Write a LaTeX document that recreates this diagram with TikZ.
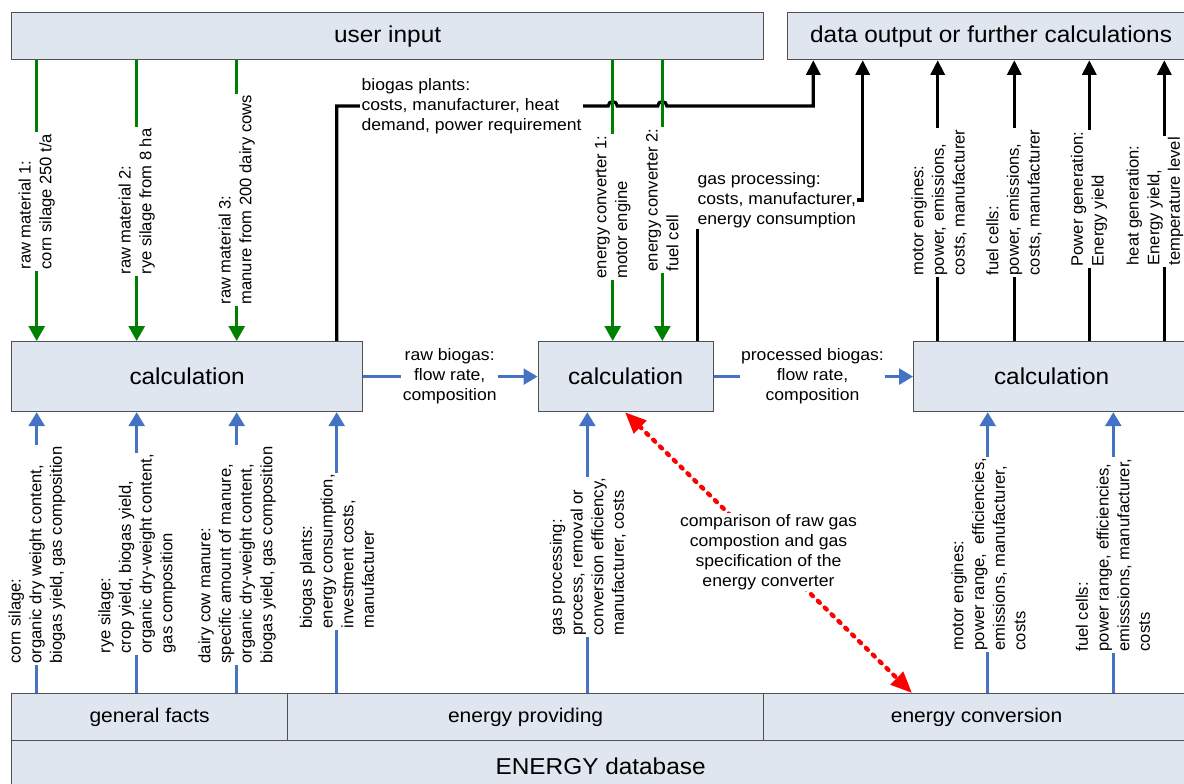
\documentclass[tikz,border=0pt]{standalone}
\usepackage{fontspec}
\setmainfont{Liberation Sans}
\newfontfamily\hsf{Liberation Sans}[FakeStretch=1.06]
\usetikzlibrary{arrows.meta}
\definecolor{boxfill}{RGB}{223,230,240}
\definecolor{boxline}{RGB}{80,80,80}
\definecolor{myblue}{RGB}{68,114,196}
\definecolor{mygreen}{RGB}{0,128,0}
\definecolor{myred}{RGB}{255,0,0}
\begin{document}
\begin{tikzpicture}[x=0.75pt,y=-0.75pt,
  box/.style={draw=boxline, line width=0.9pt, fill=boxfill, anchor=north west, inner sep=0pt},
  bigtxt/.style={font=\hsf\fontsize{17.25}{20}\selectfont},
  midtxt/.style={font=\hsf\fontsize{14.85}{18}\selectfont},
  vlbl/.style={font=\fontsize{12.45}{15.5}\selectfont, rotate=90, anchor=west, align=left, fill=white, inner sep=1pt},
  hlbl/.style={font=\hsf\fontsize{12.45}{15}\selectfont, fill=white, inner sep=1pt},
  garr/.style={draw=mygreen, line width=2.25pt, -{Triangle[length=11.25pt,width=12pt]}},
  barr/.style={draw=myblue, line width=2.1pt, -{Triangle[length=10.5pt,width=12pt]}},
  karr/.style={draw=black, line width=2.4pt, -{Triangle[length=11pt,width=10.5pt]}},
  rarr/.style={draw=myred, line width=3.3pt, dash pattern=on 2pt off 5.2pt, line cap=round, {Triangle[length=16pt,width=13pt]}-{Triangle[length=16pt,width=13pt]}},
]
\useasboundingbox[fill=white] (0,0) rectangle (1184,784);

% boxes
\node[box, bigtxt, minimum width=752*0.75pt, minimum height=47*0.75pt] (ui) at (11,12) {user input};
\node[box, bigtxt, minimum width=407*0.75pt, minimum height=47*0.75pt] (out) at (787,12) {data output or further calculations};
\node[box, bigtxt, minimum width=351*0.75pt, minimum height=70*0.75pt] (c1) at (11,341) {calculation};
\node[box, bigtxt, minimum width=175*0.75pt, minimum height=70*0.75pt] (c2) at (537.5,341) {calculation};
\node[box, bigtxt, minimum width=276*0.75pt, minimum height=70*0.75pt] (c3) at (913,341) {calculation};
\node[box, midtxt, minimum width=276*0.75pt, minimum height=47*0.75pt] (gf) at (11,693) {general facts};
\node[box, midtxt, minimum width=476*0.75pt, minimum height=47*0.75pt] (ep) at (287,693) {energy providing};
\node[box, midtxt, minimum width=426*0.75pt, minimum height=47*0.75pt] (ec) at (763,693) {energy conversion};
\node[box, bigtxt, minimum width=1178*0.75pt, minimum height=52*0.75pt] (db) at (11,740) {ENERGY database};

% black connectors
\draw[karr] (336.7,0 |- c1.north) -- (336.7,106) -- (608.2,106)
  arc[start angle=180,end angle=360,radius=4.5] -- (657.8,106)
  arc[start angle=180,end angle=360,radius=4.5] -- (813.3,106) -- (813.3,0 |- out.south);
\draw[karr] (697.3,0 |- c2.north) -- (697.3,200) -- (862.7,200) -- (862.7,0 |- out.south);
\foreach \xx in {937.7,1014.3,1089.3,1164.3}
  \draw[karr] (\xx,0 |- c3.north) -- (\xx,0 |- out.south);

% green connectors
\foreach \xx in {36.7,136.7,236.7}
  \draw[garr] (\xx,0 |- ui.south) -- (\xx,0 |- c1.north);
\foreach \xx in {612.7,662.3}
  \draw[garr] (\xx,0 |- ui.south) -- (\xx,0 |- c2.north);

% blue connectors
\foreach \xx in {36.7,136.7,236.7}
  \draw[barr] (\xx,0 |- gf.north) -- (\xx,0 |- c1.south);
\draw[barr] (336.7,0 |- ep.north) -- (336.7,0 |- c1.south);
\draw[barr] (587.3,0 |- ep.north) -- (587.3,0 |- c2.south);
\foreach \xx in {987.7,1113.3}
  \draw[barr] (\xx,0 |- ec.north) -- (\xx,0 |- c3.south);
\draw[barr] (c1.east) -- (c2.west);
\draw[barr] (c2.east) -- (c3.west);

% red comparison
\draw[rarr] (625,0 |- c2.south) -- (912,0 |- ec.north);

% horizontal labels
\node[hlbl, anchor=west, align=left] (tbp) at (360,106) {biogas plants:\\costs, manufacturer, heat\\demand, power requirement};
\node[hlbl, anchor=west, align=left] (tgp) at (696,200) {gas processing:\\costs, manufacturer,\\energy consumption};
\node[hlbl, align=center] (trb) at (449.7,376) {raw biogas:\\flow rate,\\composition};
\node[hlbl, align=center] (tpb) at (812.5,376) {processed biogas:\\flow rate,\\composition};
\node[hlbl, align=center] (tcmp) at (768.5,552) {comparison of raw gas\\compostion and gas\\specification of the\\energy converter};

% vertical labels (top)
\node[vlbl] (g1) at (36.7,271) {raw material 1:\\corn silage 250 t/a};
\node[vlbl] (g2) at (136.7,276) {raw material 2:\\rye silage from 8 ha};
\node[vlbl] (g3) at (236.7,306) {raw material 3:\\manure from 200 dairy cows};
\node[vlbl] (g4) at (612.7,280) {energy converter 1:\\motor engine};
\node[vlbl] (g5) at (662.3,273) {energy converter 2:\\fuel cell};
\node[vlbl] (k1) at (939,277) {motor engines:\\power, emissions,\\costs, manufacturer};
\node[vlbl] (k2) at (1014,277) {fuel cells:\\power, emissions,\\costs, manufacturer};
\node[vlbl] (k3) at (1089,268) {Power generation:\\Energy yield};
\node[vlbl] (k4) at (1155,267) {heat generation:\\Energy yield,\\temperature level};

% vertical labels (bottom)
\node[vlbl] (b1) at (37,665) {corn silage:\\organic dry weight content,\\biogas yield, gas composition};
\node[vlbl] (b2) at (137,655) {rye silage:\\crop yield, biogas yield,\\organic dry-weight content,\\gas composition};
\node[vlbl] (b3) at (237,665) {dairy cow manure:\\specific amount of manure,\\organic dry-weight content,\\biogas yield, gas composition};
\node[vlbl] (b4) at (337,630) {biogas plants:\\energy consumption,\\investment costs,\\manufacturer};
\node[vlbl] (b5) at (588,637) {gas processing:\\process, removal or\\conversion efficiency,\\manufacturer, costs};
\node[vlbl] (b6) at (988.5,652) {motor engines:\\power range,\ \ efficiencies,\\emissions, manufacturer,\\costs};
\node[vlbl] (b7) at (1113,653) {fuel cells:\\power range, efficiencies,\\emisssions, manufacturer,\\costs};
\end{tikzpicture}
\end{document}
